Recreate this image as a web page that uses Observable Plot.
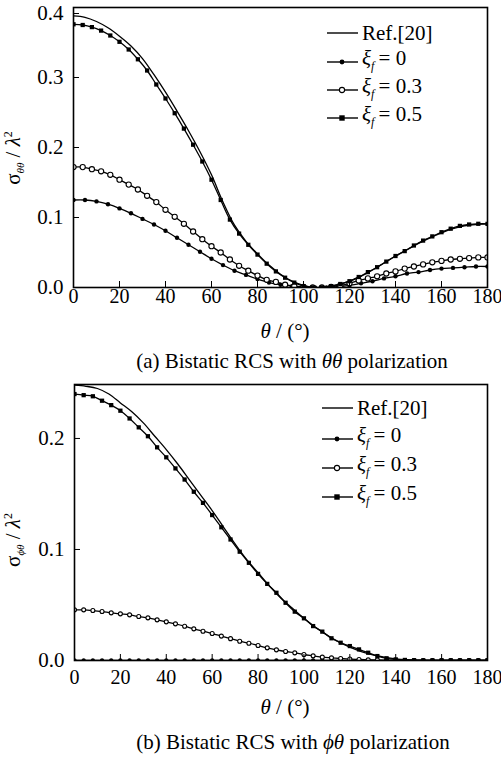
<!DOCTYPE html>
<html><head><meta charset="utf-8">
<script src="https://cdn.jsdelivr.net/npm/d3@7"></script>
<script src="https://cdn.jsdelivr.net/npm/@observablehq/plot@0.6"></script>
<style>
body{margin:0;background:#fff;}
#wrap{position:relative;width:501px;height:757px;font-family:"Liberation Serif","Times New Roman",Times,"DejaVu Serif",serif;color:#000;overflow:hidden;}
.abs{position:absolute;white-space:nowrap;line-height:1;}
.plot{position:absolute;left:0;}
.leg{position:absolute;white-space:nowrap;font-size:21px;line-height:20px;height:20px;display:flex;align-items:center;}
.leg svg{margin-right:4px;}
.sub{font-size:12px;vertical-align:-5px;font-style:italic;}
.rot{transform:translate(-50%,-50%) rotate(-90deg);font-size:21px;}
.ctr{transform:translate(-50%,-50%);}
i{font-style:italic;}
</style></head><body><div id="wrap"></div>
<script>
// ---------- data ----------
const theta4 = [0,4,8,12,16,20,24,28,32,36,40,44,48,52,56,60,64,68,72,76,80,84,88,92,96,100,104,108,112,116,120,124,128,132,136,140,144,148,152,156,160,164,168,172,176,180];
const theta5 = [0,5,10,15,20,25,30,35,40,45,50,55,60,65,70,75,80,85,90,95,100,105,110,115,120,125,130,135,140,145,150,155,160,165,170,175,180];

// (a) theta-theta polarization
const refTT = [0.388,0.386,0.380,0.371,0.359,0.345,0.327,0.304,0.279,0.252,0.224,0.194,0.161,0.122,0.089,0.066,0.048,0.032,0.019,0.009,0.003,0.000,0.001,0.004,0.009,0.016,0.025,0.035,0.045,0.054,0.063,0.071,0.078,0.084,0.088,0.090,0.091];
const xi0TT = [0.125,0.125,0.123,0.119,0.113,0.106,0.098,0.090,0.081,0.071,0.061,0.051,0.041,0.032,0.024,0.018,0.012,0.007,0.004,0.002,0.000,0.000,0.000,0.001,0.003,0.006,0.009,0.013,0.016,0.020,0.022,0.025,0.027,0.028,0.029,0.030,0.030];
const xi03TT = [0.172,0.172,0.169,0.166,0.161,0.154,0.147,0.140,0.131,0.122,0.111,0.101,0.091,0.080,0.069,0.059,0.050,0.040,0.031,0.024,0.017,0.011,0.008,0.004,0.002,0.001,0.000,0.000,0.001,0.003,0.006,0.010,0.013,0.016,0.020,0.023,0.027,0.030,0.033,0.036,0.038,0.040,0.041,0.042,0.043,0.043];
const xi05TT = [0.376,0.375,0.372,0.367,0.360,0.351,0.340,0.326,0.310,0.290,0.270,0.249,0.227,0.204,0.180,0.154,0.125,0.097,0.077,0.061,0.047,0.034,0.023,0.014,0.007,0.002,0.000,0.000,0.002,0.005,0.009,0.015,0.022,0.029,0.037,0.045,0.052,0.060,0.067,0.073,0.079,0.084,0.088,0.090,0.091,0.091];

// (b) phi-theta polarization
const refPT = [0.248,0.247,0.245,0.240,0.232,0.224,0.214,0.202,0.190,0.177,0.163,0.149,0.135,0.120,0.105,0.091,0.079,0.067,0.056,0.047,0.038,0.030,0.023,0.017,0.012,0.008,0.005,0.003,0.0015,0.0007,0.0003,0,0,0,0,0,0];
const xi0PT = [0,0,0,0,0,0,0,0,0,0,0,0,0,0,0,0,0,0,0,0,0,0,0,0,0,0,0,0,0,0,0,0,0,0,0,0,0,0,0,0,0,0,0,0,0,0];
const xi03PT = [0.0456,0.0456,0.0450,0.0441,0.0429,0.0420,0.0411,0.0396,0.0384,0.0366,0.0348,0.0330,0.0309,0.0285,0.0264,0.0243,0.0220,0.0197,0.0174,0.0156,0.0135,0.0114,0.0096,0.0081,0.0069,0.0054,0.0042,0.0030,0.0024,0.0018,0.0013,0.0009,0.0006,0.0004,0.0002,0.0001,0,0,0,0,0,0,0,0,0,0];
const xi05PT = [0.240,0.239,0.238,0.234,0.230,0.225,0.218,0.210,0.202,0.192,0.183,0.173,0.163,0.152,0.142,0.131,0.120,0.109,0.098,0.088,0.078,0.069,0.061,0.052,0.044,0.038,0.031,0.026,0.020,0.016,0.013,0.010,0.007,0.004,0.002,0.001,0.0005,0.0002,0,0,0,0,0,0,0,0];

const xTicks = [0,20,40,60,80,100,120,140,160,180];
const yTicksA = [0.0,0.1,0.2,0.3,0.4];
const yTicksB = [0.0,0.1,0.2];
const legendLabels = ["Ref.[20]", "0", "0.3", "0.5"];

const FONT = '"Liberation Serif", "Times New Roman", Times, "DejaVu Serif", serif';
const rows = (t, v) => t.map((x, i) => ({theta: x, v: v[i]}));

function chart({ref, s0, t0, s03, s05, yDomain, yTicks, height, marginBottom, marginLeft, xPad, r03}) {
  const line = (data) => Plot.line(data, {x: "theta", y: "v", curve: "catmull-rom", stroke: "black", strokeWidth: 1.3, clip: true});
  const lowTicks = yTicks.filter(t => t < 0.35);
  const topTicks = yTicks.filter(t => t >= 0.35);
  const marks = [
    line(rows(theta5, ref)),
    line(rows(t0, s0)),
    Plot.dot(rows(t0, s0), {x: "theta", y: "v", r: 2.2, fill: "black", stroke: "none", clip: true}),
    line(rows(theta4, s03)),
    Plot.dot(rows(theta4, s03), {x: "theta", y: "v", r: r03, fill: "white", stroke: "black", strokeWidth: 1.1, clip: true}),
    line(rows(theta4, s05)),
    Plot.dot(rows(theta4, s05), {x: "theta", y: "v", r: 2.4, symbol: "square", fill: "black", stroke: "none", clip: true}),
    Plot.frame({stroke: "black", strokeWidth: 1.6}),
    Plot.axisX({ticks: xTicks, tickSize: -6, tickPadding: xPad, tickFormat: d => String(d), label: null}),
    Plot.axisY({ticks: lowTicks, tickSize: -6, tickPadding: 16, tickFormat: d3.format(".1f"), label: null, fontSize: 21})
  ];
  if (topTicks.length) {
    marks.push(Plot.axisY({ticks: topTicks, tickSize: -6, tickPadding: 16, tickFormat: d3.format(".1f"), label: null, textAnchor: "end", dy: 6, fontSize: 21}));
  }
  return Plot.plot({
    width: 501, height,
    marginTop: 7, marginBottom, marginLeft, marginRight: 14,
    style: {fontFamily: FONT, fontSize: "20px", background: "white", color: "black", overflow: "visible"},
    x: {domain: [0, 180]},
    y: {domain: yDomain},
    marks
  });
}

const wrap = document.getElementById("wrap");

const pa = chart({ref: refTT, s0: xi0TT, t0: theta5, s03: xi03TT, s05: xi05TT, yDomain: [0, 0.4], yTicks: yTicksA, height: 300, marginBottom: 13, marginLeft: 73, xPad: 7, r03: 2.6});
pa.classList.add("plot"); pa.style.top = "0px";
wrap.appendChild(pa);

const pb = chart({ref: refPT, s0: xi0PT, t0: theta4, s03: xi03PT, s05: xi05PT, yDomain: [0, 0.2486], yTicks: yTicksB, height: 310, marginBottom: 27, marginLeft: 74, xPad: 15, r03: 2.0});
pb.classList.add("plot"); pb.style.top = "377px";
wrap.appendChild(pb);

function add(html, cls, left, top, extra) {
  const d = document.createElement("div");
  d.className = "abs " + cls;
  d.style.left = left + "px"; d.style.top = top + "px";
  if (extra) d.style.cssText += extra;
  d.innerHTML = html;
  wrap.appendChild(d);
  return d;
}

// axis titles
add('σ<span class="sub" style="font-size:11px;vertical-align:-4px">θθ</span> / <i>λ</i><sup style="font-size:12px">2</sup>', "rot", 14, 158);
add('σ<span class="sub" style="font-size:11px;vertical-align:-4px">ϕθ</span> / <i>λ</i><sup style="font-size:12px">2</sup>', "rot", 14, 540);
add('<i>θ</i> / (°)', "ctr", 285, 331, "font-size:21px");
add('<i>θ</i> / (°)', "ctr", 285, 707, "font-size:21px");
// captions
add('(a) Bistatic RCS with <i>θθ</i> polarization', "ctr", 292, 361, "font-size:21px");
add('(b) Bistatic RCS with <i>ϕθ</i> polarization', "ctr", 293, 742, "font-size:21px");

// legends
function sample(kind) {
  let m = "";
  if (kind === 1) m = '<circle cx="15" cy="10" r="2.4" fill="black"/>';
  if (kind === 2) m = '<circle cx="15" cy="10" r="2.6" fill="white" stroke="black" stroke-width="1.1"/>';
  if (kind === 3) m = '<rect x="12.3" y="7.3" width="5.4" height="5.4" fill="black"/>';
  return `<svg width="31" height="20"><line x1="0" x2="31" y1="10" y2="10" stroke="black" stroke-width="1.4"/>${m}</svg>`;
}
function legend(x, ys) {
  legendLabels.forEach((lab, k) => {
    const txt = k === 0 ? lab : `<i>ξ</i><span class="sub">f</span>&thinsp;= ${lab}`;
    add(sample(k) + `<span>${txt}</span>`, "leg", x, ys[k] - 10);
  });
}
legend(327, [33, 62, 90, 118]);
legend(322, [408, 439, 468, 497]);
</script>
</body></html>
